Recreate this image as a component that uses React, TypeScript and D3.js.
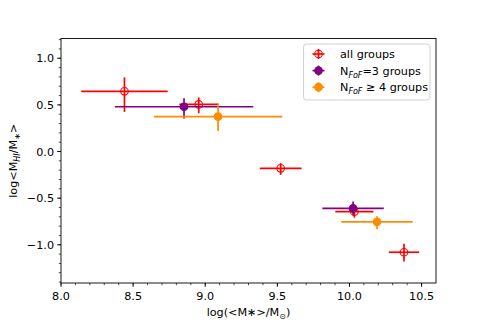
import React from "react";
import * as d3 from "d3";

const W = 485;
const H = 323;
const M = { left: 61, right: 436, top: 38.5, bottom: 283 };

const xTicks = [8.0, 8.5, 9.0, 9.5, 10.0, 10.5];
const yTicks = [-1.0, -0.5, 0.0, 0.5, 1.0];

// all groups
const allX = [8.44, 8.955, 9.523, 10.034, 10.378];
const allXErr = [0.3, 0.135, 0.145, 0.132, 0.105];
const allY = [0.645, 0.505, -0.18, -0.645, -1.08];
const allYErrLo = [0.22, 0.095, 0.07, 0.065, 0.1];
const allYErrHi = [0.15, 0.075, 0.055, 0.06, 0.09];

// N_FoF = 3 groups
const n3X = [8.853, 10.025];
const n3XErr = [0.48, 0.213];
const n3Y = [0.48, -0.61];
const n3YErrLo = [0.125, 0.07];
const n3YErrHi = [0.09, 0.075];

// N_FoF >= 4 groups
const n4X = [9.089, 10.191];
const n4XErr = [0.445, 0.248];
const n4Y = [0.374, -0.754];
const n4YErrLo = [0.153, 0.08];
const n4YErrHi = [0.144, 0.06];

const FONT = "DejaVu Sans, sans-serif";

type Series = {
  key: string;
  color: string;
  open: boolean;
  x: number[];
  xerr: number[];
  y: number[];
  lo: number[];
  hi: number[];
};

const series: Series[] = [
  { key: "all", color: "#ff0000", open: true, x: allX, xerr: allXErr, y: allY, lo: allYErrLo, hi: allYErrHi },
  { key: "n3", color: "#800080", open: false, x: n3X, xerr: n3XErr, y: n3Y, lo: n3YErrLo, hi: n3YErrHi },
  { key: "n4", color: "#ff8c00", open: false, x: n4X, xerr: n4XErr, y: n4Y, lo: n4YErrLo, hi: n4YErrHi },
];

export default function App() {
  const x = d3.scaleLinear().domain([8.0, 10.6]).range([M.left, M.right]);
  const y = d3.scaleLinear().domain([-1.41, 1.212]).range([M.bottom, M.top]);
  const xMinor = d3.range(80, 106).map((v) => v / 10).filter((v) => v <= 10.6);
  const yMinor = d3.range(-14, 13).map((v) => v / 10);
  const fmt = (v: number) => d3.format(".1f")(v).replace("-", "\u2212");
  const r = 3.8;

  const legendItems = [
    { s: series[0], label: <tspan>all groups</tspan> },
    {
      s: series[1],
      label: (
        <>
          <tspan>N</tspan>
          <tspan fontSize={8} fontStyle="italic" dy={3}>FoF</tspan>
          <tspan dy={-3}>=3 groups</tspan>
        </>
      ),
    },
    {
      s: series[2],
      label: (
        <>
          <tspan>N</tspan>
          <tspan fontSize={8} fontStyle="italic" dy={3}>FoF</tspan>
          <tspan dy={-3}> ≥ 4 groups</tspan>
        </>
      ),
    },
  ];

  return (
    <svg width={W} height={H} style={{ position: "absolute", left: 0, top: 0 }} fontFamily={FONT}>
      <rect width={W} height={H} fill="white" />
      {/* data */}
      {series.map((s) => (
        <g key={s.key}>
          {s.x.map((xv, i) => (
            <g key={i}>
              <line x1={x(xv - s.xerr[i])} x2={x(xv + s.xerr[i])} y1={y(s.y[i])} y2={y(s.y[i])} stroke={s.color} strokeWidth={1.7} />
              <line x1={x(xv)} x2={x(xv)} y1={y(s.y[i] - s.lo[i])} y2={y(s.y[i] + s.hi[i])} stroke={s.color} strokeWidth={1.7} />
              <circle cx={x(xv)} cy={y(s.y[i])} r={r} fill={s.open ? "none" : s.color} stroke={s.color} strokeWidth={1.1} />
            </g>
          ))}
        </g>
      ))}
      {/* spines */}
      <rect x={M.left} y={M.top} width={M.right - M.left} height={M.bottom - M.top} fill="none" stroke="black" strokeWidth={0.9} />
      {/* x ticks */}
      {xMinor.map((v) => (
        <line key={"xm" + v} x1={x(v)} x2={x(v)} y1={M.bottom} y2={M.bottom + 2.2} stroke="black" strokeWidth={0.7} />
      ))}
      {xTicks.map((v) => (
        <g key={"x" + v}>
          <line x1={x(v)} x2={x(v)} y1={M.bottom} y2={M.bottom + 3.9} stroke="black" strokeWidth={0.9} />
          <text x={x(v)} y={M.bottom + 16.5} textAnchor="middle" fontSize={11.2} fill="black">{fmt(v)}</text>
        </g>
      ))}
      {/* y ticks */}
      {yMinor.map((v) => (
        <line key={"ym" + v} x1={M.left - 2.2} x2={M.left} y1={y(v)} y2={y(v)} stroke="black" strokeWidth={0.7} />
      ))}
      {yTicks.map((v) => (
        <g key={"y" + v}>
          <line x1={M.left - 3.9} x2={M.left} y1={y(v)} y2={y(v)} stroke="black" strokeWidth={0.9} />
          <text x={M.left - 7} y={y(v) + 4} textAnchor="end" fontSize={11.2} fill="black">{fmt(v)}</text>
        </g>
      ))}
      {/* axis labels */}
      <text x={(M.left + M.right) / 2} y={316} textAnchor="middle" fontSize={11.2} fill="black">
        <tspan>log(&lt;M</tspan>
        <tspan>∗</tspan>
        <tspan>&gt;/M</tspan>
        <tspan fontSize={8} dy={3}>⊙</tspan>
        <tspan dy={-3}>)</tspan>
      </text>
      <text transform={`translate(17,${(M.top + M.bottom) / 2}) rotate(-90)`} textAnchor="middle" fontSize={11.2} fill="black">
        <tspan>log&lt;M</tspan>
        <tspan fontSize={8} fontStyle="italic" dy={3}>HI</tspan>
        <tspan dy={-3}>/M</tspan>
        <tspan fontSize={8} dy={3}>∗</tspan>
        <tspan dy={-3}>&gt;</tspan>
      </text>
      {/* legend */}
      <rect x={303.5} y={44} width={126.5} height={56} rx={3} fill="white" fillOpacity={0.8} stroke="#cccccc" strokeWidth={0.9} />
      {legendItems.map((it, i) => {
        const cy = 54 + i * 16.6;
        const cx = 318.5;
        return (
          <g key={i}>
            <line x1={cx - 6} x2={cx + 6} y1={cy} y2={cy} stroke={it.s.color} strokeWidth={1.7} />
            <line x1={cx} x2={cx} y1={cy - 5} y2={cy + 5} stroke={it.s.color} strokeWidth={1.7} />
            <circle cx={cx} cy={cy} r={r} fill={it.s.open ? "none" : it.s.color} stroke={it.s.color} strokeWidth={1.1} />
            <text x={340} y={cy + 4} fontSize={11.2} fill="black">{it.label}</text>
          </g>
        );
      })}
    </svg>
  );
}
